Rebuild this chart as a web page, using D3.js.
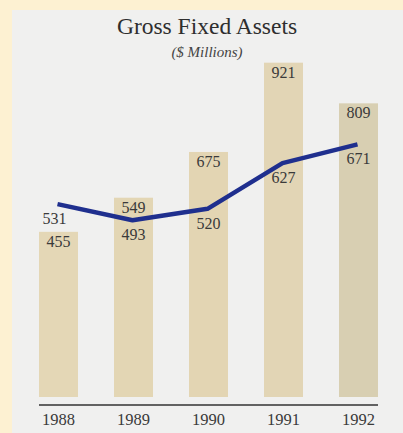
<!DOCTYPE html>
<html lang="en">
<head>
  <meta charset="UTF-8" />
  <title>Gross Fixed Assets</title>
  <script src="https://cdnjs.cloudflare.com/ajax/libs/d3/7.8.2/d3.min.js"></script>
  <style>
    body { margin: 0; padding: 0; background: #fdf0cf; }
    svg { display: block; }
    .lbl { font-family: "Liberation Serif", serif; font-size: 16px; fill: #3a3a3a; }
  </style>
</head>
<body>
<svg id="chart" width="403" height="433"></svg>
<script>
// data
const years = ["1988", "1989", "1990", "1991", "1992"];
const grossAssets = [455, 549, 675, 921, 809];
const netAssets = [531, 493, 520, 627, 671];
const barColors = ["#e4d7b6", "#e3d6b4", "#e3d5b3", "#e2d5b5", "#d8cfb2"];

const W = 403, H = 433;
const svg = d3.select("#chart");

// yellow frame + grey panel
svg.append("rect").attr("width", W).attr("height", H).attr("fill", "#fdf1d2");
svg.append("rect").attr("x", 12).attr("y", 10).attr("width", W - 12).attr("height", H - 10)
  .attr("fill", "#f0f0ef");

const x = d3.scaleBand().domain(years).range([39, 378]).paddingInner(0.48).paddingOuter(0);
// bars share a zero baseline
const y = d3.scaleLinear().domain([0, 1000]).range([397, 34]);
// the line is drawn on its own scale
const yLine = d3.scaleLinear().domain([400, 700]).range([260, 132]);

// bars
svg.append("g").selectAll("rect")
  .data(grossAssets)
  .join("rect")
  .attr("x", (d, i) => x(years[i]))
  .attr("y", d => y(d))
  .attr("width", x.bandwidth())
  .attr("height", d => y(0) - y(d))
  .attr("fill", (d, i) => barColors[i]);

// bar value labels
svg.append("g").selectAll("text")
  .data(grossAssets)
  .join("text")
  .attr("class", "lbl")
  .attr("text-anchor", "middle")
  .attr("x", (d, i) => x(years[i]) + x.bandwidth() / 2)
  .attr("y", d => y(d) + 15)
  .text(d => d);

// axis
const axis = svg.append("g").attr("transform", "translate(0,405)")
  .call(d3.axisBottom(x).tickSize(0).tickPadding(8));
axis.select(".domain").attr("stroke", "#333").attr("stroke-width", 1.5)
  .attr("d", `M${x(years[0])},0H${x(years[4]) + x.bandwidth()}`);
axis.selectAll("text").attr("class", "lbl").attr("font-size", null).attr("font-family", null)
  .attr("fill", "#3a3a3a").style("font-size", "16.5px");

// line
const line = d3.line()
  .x((d, i) => x(years[i]) + x.bandwidth() / 2 - 1)
  .y(d => yLine(d));
svg.append("path")
  .datum(netAssets)
  .attr("d", line)
  .attr("fill", "none")
  .attr("stroke", "#1f2f8e")
  .attr("stroke-width", 4.5)
  .attr("stroke-linejoin", "round");

// line value labels (below the points)
svg.append("g").selectAll("text")
  .data(netAssets)
  .join("text")
  .attr("class", "lbl")
  .attr("text-anchor", "middle")
  .attr("x", (d, i) => x(years[i]) + x.bandwidth() / 2 - (i === 0 ? 4 : 0))
  .attr("y", d => yLine(d) + 20)
  .text(d => d);

// title
svg.append("text").attr("x", 207).attr("y", 34).attr("text-anchor", "middle")
  .attr("font-family", "Liberation Serif, serif").attr("font-size", 23.5).attr("fill", "#2e2e2e")
  .text("Gross Fixed Assets");
svg.append("text").attr("x", 207).attr("y", 57).attr("text-anchor", "middle")
  .attr("font-family", "Liberation Serif, serif").attr("font-style", "italic")
  .attr("font-size", 15).attr("fill", "#444")
  .text("($ Millions)");
</script>
</body>
</html>
